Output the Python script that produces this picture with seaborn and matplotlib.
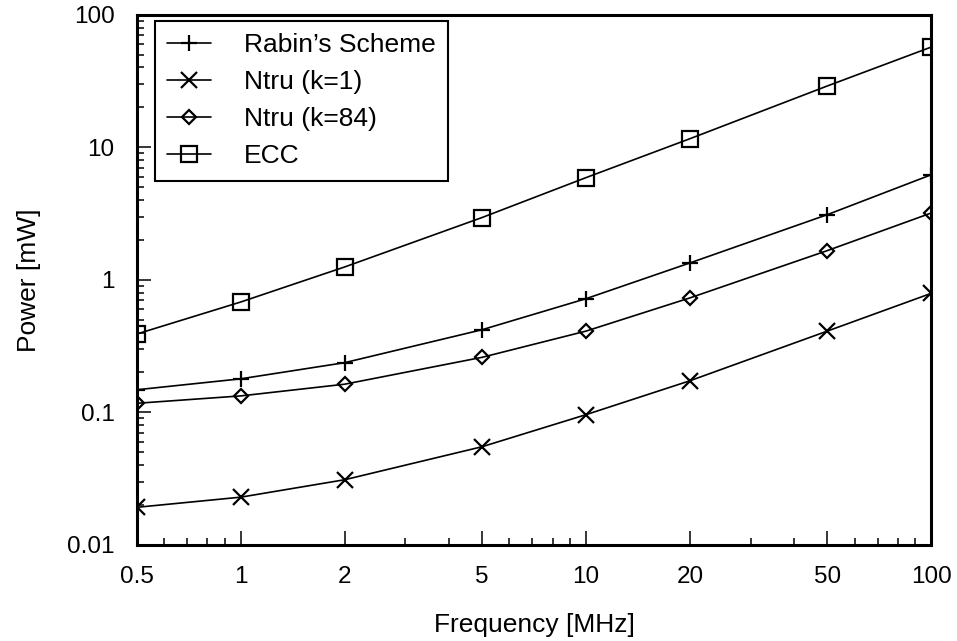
import numpy as np
import pandas as pd
import matplotlib
matplotlib.use("Agg")
import matplotlib.pyplot as plt
import matplotlib.ticker as mticker
import seaborn as sns

# data
freq = [0.5, 1, 2, 5, 10, 20, 50, 100]
rabin = [0.148, 0.179, 0.237, 0.42, 0.72, 1.34, 3.1, 6.2]
ntru_k1 = [0.0192, 0.0229, 0.031, 0.055, 0.096, 0.173, 0.41, 0.79]
ntru_k84 = [0.117, 0.133, 0.163, 0.26, 0.41, 0.73, 1.66, 3.19]
ecc = [0.39, 0.68, 1.25, 2.95, 5.9, 11.6, 29, 57]

x_ticks = [0.5, 1, 2, 5, 10, 20, 50, 100]
y_ticks = [0.01, 0.1, 1, 10, 100]

sns.set_style("ticks")
plt.rcParams["font.family"] = ["Liberation Sans", "DejaVu Sans"]
plt.rcParams["font.size"] = 17
plt.rcParams["text.color"] = "black"
plt.rcParams["axes.labelcolor"] = "black"
plt.rcParams["xtick.color"] = "black"
plt.rcParams["ytick.color"] = "black"

fig, ax = plt.subplots(figsize=(9.57, 6.41), dpi=100)
fig.subplots_adjust(left=0.143, right=0.973, top=0.977, bottom=0.150)

series = [
    ("Rabin\u2019s Scheme", rabin, "+", 12, "black"),
    ("Ntru (k=1)", ntru_k1, "x", 11, "black"),
    ("Ntru (k=84)", ntru_k84, "D", 7.5, "none"),
    ("ECC", ecc, "s", 12, "none"),
]

for name, vals, mk, ms, fc in series:
    df = pd.DataFrame({"freq": freq, "power": vals})
    sns.lineplot(data=df, x="freq", y="power", ax=ax, color="black",
                 linewidth=1.2, marker=mk, markersize=ms,
                 markerfacecolor=fc, markeredgecolor="black",
                 markeredgewidth=1.6, label=name)

ax.set_xscale("log")
ax.set_yscale("log")
ax.set_xlim(0.5, 100)
ax.set_ylim(0.01, 100)

ax.xaxis.set_major_locator(mticker.FixedLocator(x_ticks))
ax.xaxis.set_major_formatter(mticker.FixedFormatter([f"{v:g}" for v in x_ticks]))
ax.xaxis.set_minor_locator(mticker.LogLocator(base=10, subs=np.arange(2, 10)))
ax.xaxis.set_minor_formatter(mticker.NullFormatter())
ax.yaxis.set_major_locator(mticker.FixedLocator(y_ticks))
ax.yaxis.set_major_formatter(mticker.FixedFormatter([f"{v:g}" for v in y_ticks]))
ax.yaxis.set_minor_locator(mticker.LogLocator(base=10, subs=np.arange(2, 10)))
ax.yaxis.set_minor_formatter(mticker.NullFormatter())

ax.tick_params(which="both", direction="in", colors="black", width=1.1)
ax.tick_params(which="major", length=10)
ax.tick_params(which="minor", length=5)
ax.tick_params(axis="x", which="major", pad=15, labelsize=17.5)
ax.tick_params(axis="y", which="major", pad=16, labelsize=17.5)

for sp in ax.spines.values():
    sp.set_visible(True)
    sp.set_linewidth(2.2)
    sp.set_color("black")

ax.set_xlabel("Frequency [MHz]", fontsize=19, labelpad=18, color="black")
ax.set_ylabel("Power [mW]", fontsize=19, labelpad=19, color="black")

leg = ax.legend(loc="upper left", bbox_to_anchor=(0.0227, 0.9887), fancybox=False,
                frameon=True, edgecolor="black", framealpha=1, fontsize=19,
                handlelength=1.67, handletextpad=1.25, borderpad=0.46,
                labelspacing=0.5, borderaxespad=0)
leg.get_frame().set_linewidth(1.5)
for t in leg.get_texts():
    t.set_color("black")

fig.savefig("out.png", dpi=100)
